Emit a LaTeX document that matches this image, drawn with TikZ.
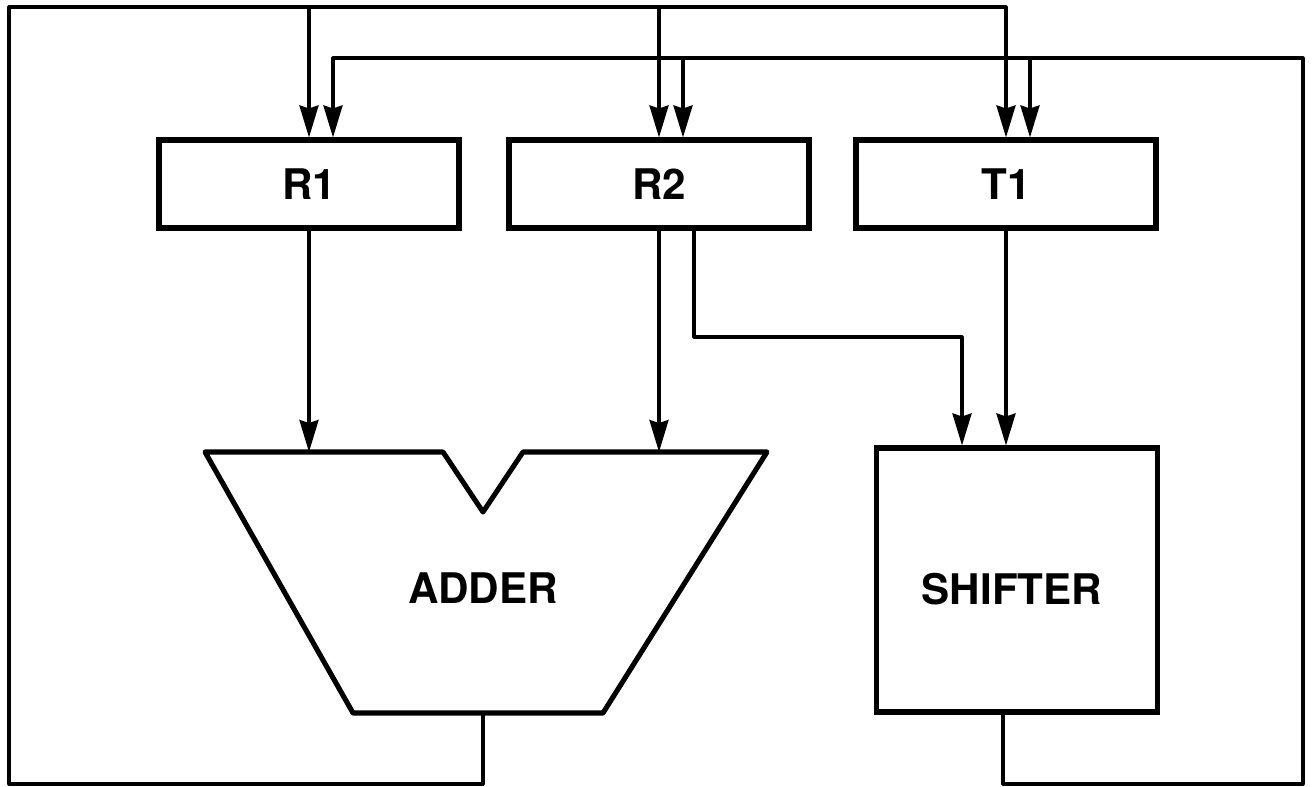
\documentclass[tikz,border=0pt]{standalone}
\usepackage{fontspec}
\setmainfont{TeX Gyre Heros}
\usetikzlibrary{arrows.meta,positioning,calc}

\begin{document}
\begin{tikzpicture}[x=0.02cm,y=-0.02cm,
  reg/.style={draw, line width=2.9pt, minimum width=6cm, minimum height=1.76cm, inner sep=0pt, font=\fontsize{24}{24}\selectfont\bfseries},
  unit/.style={draw, line width=2.9pt, inner sep=0pt},
  wire/.style={line width=1.8pt, line join=round},
  >={Stealth[length=0.64cm,width=0.38cm,inset=0.06cm]}]
\useasboundingbox[fill=white] (0,0) rectangle (1313,787);
% registers
\node[reg] (R1) at (309,184) {R1};
\node[reg] (R2) at (659,184) {R2};
\node[reg] (T1) at (1006,184) {T1};
% adder and shifter
\draw[line width=2.9pt, line join=round] (205,452) -- (443,452) -- (483,512) -- (523,452) -- (767,452) -- (603,713) -- (353,713) -- cycle;
\node[font=\fontsize{24}{24}\selectfont\bfseries] (adder) at (483,588) {ADDER};
\coordinate (adder-in1) at (309,452);
\coordinate (adder-in2) at (659,452);
\coordinate (adder-out) at (483,713);
\node[unit, minimum width=5.62cm, minimum height=5.28cm] (shifter) at (1017,580) {};
\node[font=\fontsize{24}{24}\selectfont\bfseries] (shifter-text) at (1012,589) {SHIFTER};
% buses
\coordinate (aCorner) at (9,784);
\coordinate (aTop) at (9,7);
\coordinate (sCorner) at (1303,784);
\coordinate (busR) at (1303,58);
\coordinate (sOut) at ([xshift=-0.28cm]shifter.south);
\foreach \n in {R1,R2,T1}
  \coordinate (\n-b) at ([xshift=0.48cm]\n.north);
\draw[wire,->] (adder-out) |- (aCorner) -- (aTop) -| (T1.north);
\foreach \n in {R1,R2} \draw[wire,->] (\n.north |- aTop) -- (\n.north);
\draw[wire,->] (sOut) |- (sCorner) -- (busR) -| (R1-b);
\foreach \n in {R2,T1} \draw[wire,->] (\n-b |- busR) -- (\n-b);
% register outputs
\draw[wire,->] (R1.south) -- (adder-in1);
\draw[wire,->] (R2.south) -- (adder-in2);
\coordinate (r2turn) at (694,337);
\draw[wire,->] (r2turn |- R2.south) -- (r2turn) -| ([xshift=-1.1cm]shifter.north);
\draw[wire,->] (T1.south) -- (T1.south |- shifter.north);
\end{tikzpicture}
\end{document}
